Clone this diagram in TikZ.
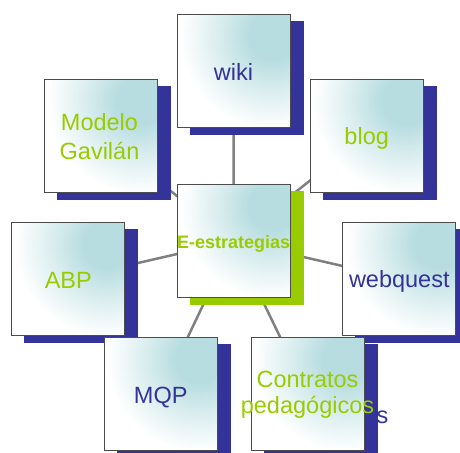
\documentclass[tikz,border=0pt]{standalone}
\usepackage{fontspec}
\setmainfont{Liberation Sans}
\usetikzlibrary{calc}
\definecolor{shblue}{RGB}{51,51,153}
\definecolor{shgreen}{RGB}{153,204,0}
\definecolor{txtgreen}{RGB}{153,204,0}
\definecolor{txtblue}{RGB}{51,51,153}
\definecolor{tealc}{RGB}{184,221,224}
\definecolor{linkgray}{RGB}{128,128,128}
\pgfdeclareradialshading{boxshade}{\pgfpoint{0bp}{0bp}}{color(0bp)=(tealc); color(6bp)=(tealc); color(14bp)=(tealc!50!white); color(23bp)=(white); color(25bp)=(white)}
\begin{document}
\begin{tikzpicture}[x=1pt,y=-1pt,
  box/.style={draw=black!70, line width=1pt, minimum size=113pt, inner sep=0pt, fill=white,
    path picture={\shade[shading=boxshade] ($(path picture bounding box.north east)+(-18pt,-22pt)$) circle (100pt);}},
  link/.style={draw=linkgray, line width=2.5pt},
  lbl/.style={font=\fontsize{23.5}{29}\selectfont, inner sep=0pt, align=center},
  lblc/.style={font=\fontsize{23.5}{26}\selectfont, inner sep=0pt, align=center},
  lblb/.style={font=\fontsize{18}{22}\selectfont\bfseries, inner sep=0pt}]
\useasboundingbox (0,0) rectangle (460,452);
% boxes (positions)
\path (233.5,71) node[box] (wiki) {};
\path (101,135.7) node[box] (modelo) {};
\path (366.7,135.7) node[box] (blog) {};
\path (233.7,241) node[box] (center) {};
\path (68.3,279) node[box] (abp) {};
\path (399.3,279) node[box] (webquest) {};
\path (160.7,393.7) node[box] (mqp) {};
\path (307.5,393.7) node[box] (contratos) {};
% connectors
\draw[link] (center.center) -- (wiki.center);
\draw[link] (center.center) -- (modelo.center);
\draw[link] (center.center) -- (blog.center);
\draw[link] (center.center) -- (abp.center);
\draw[link] (center.center) -- (webquest.center);
\draw[link] (center.center) -- (mqp.center);
\draw[link] (center.center) -- (contratos.center);
% shadows
\foreach \n in {wiki,modelo,blog,abp,webquest,mqp,contratos}{
  \fill[shblue] ($(\n.south west)+(13,7)$) rectangle ($(\n.north east)+(13,7)$);
}
\fill[shgreen] ($(center.south west)+(13,7)$) rectangle ($(center.north east)+(13,7)$);
% boxes drawn on top
\foreach \n in {wiki,modelo,blog,center,abp,webquest,mqp,contratos}{
  \path (\n.center) node[box] {};
}
% texts
\node[lbl, text=txtblue, anchor=base] (wikiT) at ($(wiki.center)+(0,9)$) {wiki};
\node[lbl, text=txtgreen] (modeloT) at ($(modelo.center)+(-1.5,0.4)$) {Modelo\\Gavilán};
\node[lbl, text=txtgreen, anchor=base] (blogT) at ($(blog.center)+(0,8.3)$) {blog};
\node[lblb, text=txtgreen, anchor=base] (centerT) at ($(center.center)+(0,7)$) {E-estrategias};
\node[lbl, text=txtgreen, anchor=base] (abpT) at ($(abp.center)+(0,9)$) {ABP};
\node[lbl, text=txtblue, anchor=base] (webquestT) at ($(webquest.center)+(0,8)$) {webquest};
\node[lbl, text=txtblue, anchor=base] (mqpT) at ($(mqp.center)+(0,9.3)$) {MQP};
\node[lblc, text=txtgreen] (contratosT) at ($(contratos.center)+(0,1.5)$) {Contratos\\pedagógicos};
\node[lbl, text=txtblue, anchor=base] (extraS) at ($(contratos.center)+(75,29.6)$) {s};
\end{tikzpicture}
\end{document}
